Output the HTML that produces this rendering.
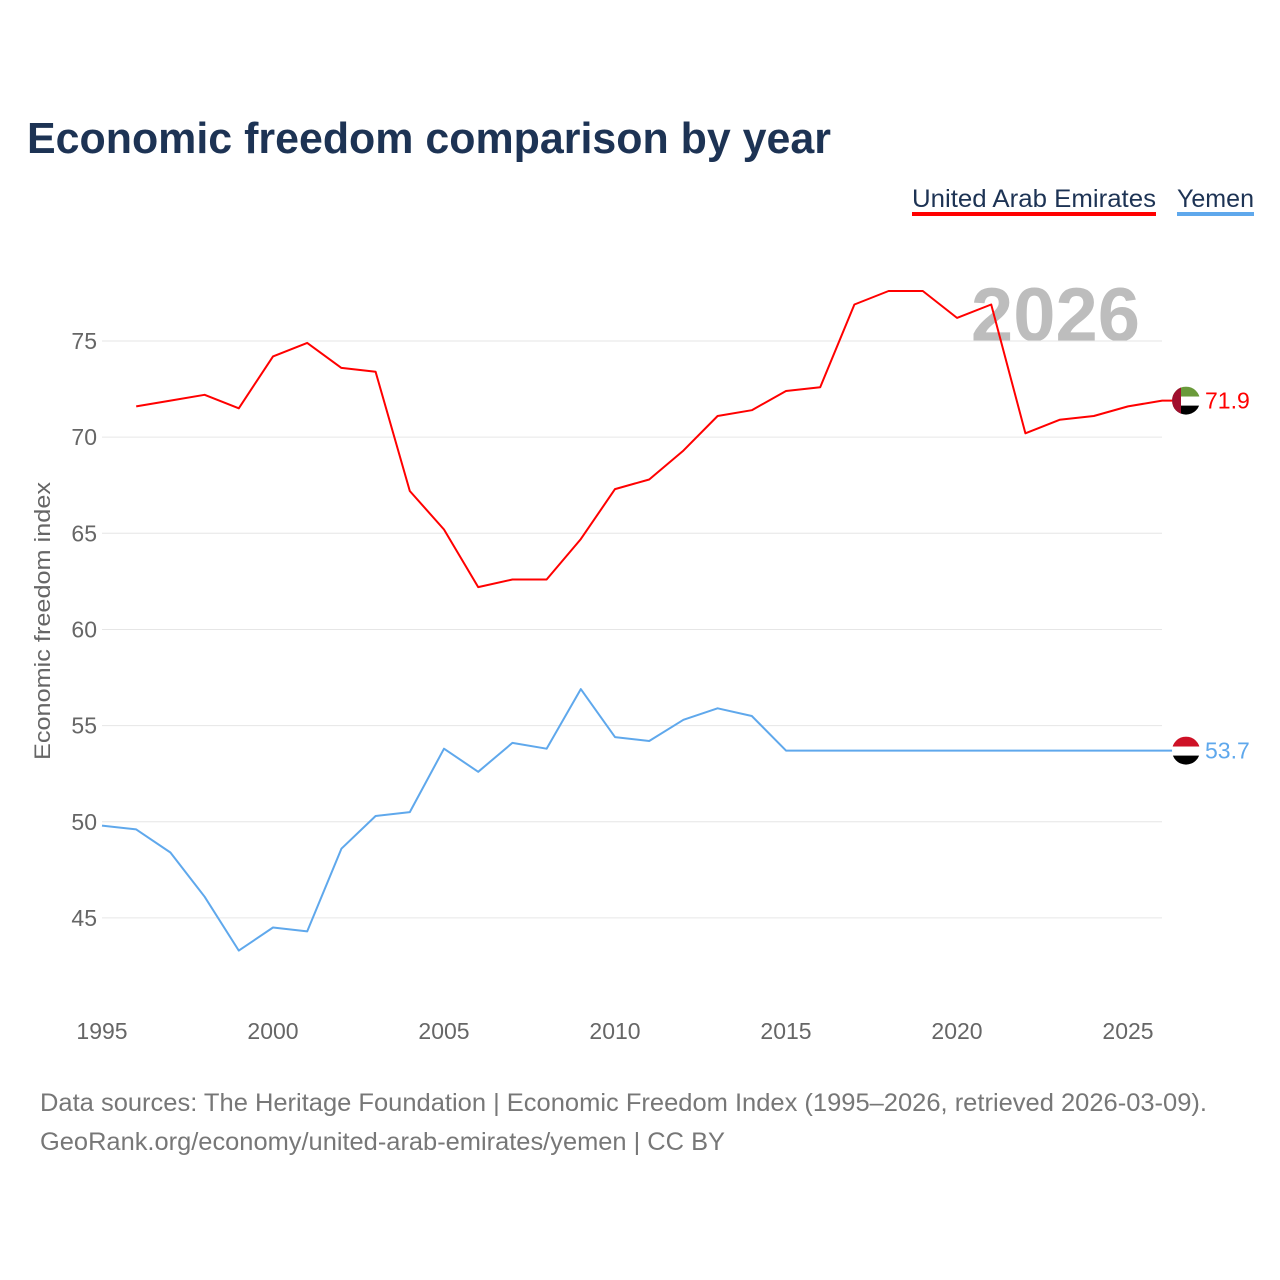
<!DOCTYPE html>
<html><head><meta charset="utf-8">
<style>
html,body{margin:0;padding:0;background:#fff;width:1280px;height:1280px;overflow:hidden;font-family:"Liberation Sans",sans-serif;}
</style></head>
<body>
<svg id="chart" width="1280" height="1280" xmlns="http://www.w3.org/2000/svg">
<text x="27" y="153" font-size="44" font-weight="bold" fill="#1d3354" textLength="804" lengthAdjust="spacingAndGlyphs">Economic freedom comparison by year</text>
<g>
<text x="912" y="207" font-size="25" fill="#1d3354" textLength="244" lengthAdjust="spacingAndGlyphs">United Arab Emirates</text>
<rect x="912" y="212" width="244" height="4" fill="#ff0000"/>
<text x="1177" y="207" font-size="25" fill="#1d3354" textLength="77" lengthAdjust="spacingAndGlyphs">Yemen</text>
<rect x="1177" y="212" width="77" height="4" fill="#5fa8ec"/>
</g>
<text x="1140" y="341" font-size="76" font-weight="bold" fill="#bdbdbd" text-anchor="end">2026</text>
<g id="grid"></g><g id="xt"></g>
<text transform="translate(50,621) rotate(-90)" font-size="22" fill="#666" text-anchor="middle" textLength="278" lengthAdjust="spacingAndGlyphs">Economic freedom index</text>
<g id="series"></g>
<text x="40" y="1111" font-size="25" fill="#777" textLength="1167" lengthAdjust="spacingAndGlyphs">Data sources: The Heritage Foundation | Economic Freedom Index (1995–2026, retrieved 2026-03-09).</text>
<text x="40" y="1150" font-size="25" fill="#777" textLength="685" lengthAdjust="spacingAndGlyphs">GeoRank.org/economy/united-arab-emirates/yemen | CC BY</text>
</svg>
<script>
const years=[1995,1996,1997,1998,1999,2000,2001,2002,2003,2004,2005,2006,2007,2008,2009,2010,2011,2012,2013,2014,2015,2016,2017,2018,2019,2020,2021,2022,2023,2024,2025,2026];
const uae=[null,71.6,71.9,72.2,71.5,74.2,74.9,73.6,73.4,67.2,65.2,62.2,62.6,62.6,64.7,67.3,67.8,69.3,71.1,71.4,72.4,72.6,76.9,77.6,77.6,76.2,76.9,70.2,70.9,71.1,71.6,71.9];
const yemen=[49.8,49.6,48.4,46.1,43.3,44.5,44.3,48.6,50.3,50.5,53.8,52.6,54.1,53.8,56.9,54.4,54.2,55.3,55.9,55.5,53.7,53.7,53.7,53.7,53.7,53.7,53.7,53.7,53.7,53.7,53.7,53.7];
const yTicks=[45,50,55,60,65,70,75];
const xTicks=[1995,2000,2005,2010,2015,2020,2025];
const NS="http://www.w3.org/2000/svg";
const X=y=>102+(y-1995)*34.2;
const Y=v=>341+(75-v)*19.23;
function mk(tag,attrs,parent,txt){const e=document.createElementNS(NS,tag);for(const k in attrs)e.setAttribute(k,attrs[k]);if(txt!==undefined)e.textContent=txt;parent.appendChild(e);return e;}
const grid=document.getElementById('grid');
yTicks.forEach(t=>{
 const l=mk('line',{x1:102,x2:1162,y1:Y(t),y2:Y(t),stroke:'#e6e6e6','stroke-width':1},grid);
 
 
 const tx=mk('text',{x:97,y:Y(t)+8,'font-size':23,fill:'#666','text-anchor':'end'},grid,t);
 
 
});
const xt=document.getElementById('xt');
xTicks.forEach(t=>{
 const tx=mk('text',{x:X(t),y:1039,'font-size':23,fill:'#666','text-anchor':'middle'},xt,t);
 
 
});
const sg=document.getElementById('series');
function line(vals,color,name){
 let d='';vals.forEach((v,i)=>{if(v==null)return;d+=(d?'L':'M')+X(years[i]).toFixed(1)+','+Y(v).toFixed(1);});
 const last=vals[vals.length-1];
 d+='L1186,'+Y(last).toFixed(1);
 const p=mk('path',{d:d,fill:'none',stroke:color,'stroke-width':2,'stroke-linejoin':'round'},sg);
 
 
 const t=mk('text',{x:1205,y:Y(last)+8,'font-size':23,fill:color},sg,last.toFixed(1));
 
 
 return Y(last);
}
const yu=line(uae,'#ff0000','uae');
const yy=line(yemen,'#5fa8ec','yemen');
function flagUAE(cy){
 const g=mk('g',{},sg);
 
 
 mk('clipPath',{id:'cu'},g);
 const cp=g.querySelector('clipPath');mk('circle',{cx:1186,cy:cy,r:14},cp);
 const h=mk('g',{'clip-path':'url(#cu)'},g);
 mk('rect',{x:1172,y:cy-14,width:28,height:10,fill:'#6a9a3a'},h);
 mk('rect',{x:1172,y:cy-4,width:28,height:9,fill:'#fff'},h);
 mk('rect',{x:1172,y:cy+5,width:28,height:10,fill:'#000'},h);
 mk('rect',{x:1172,y:cy-14,width:9,height:28,fill:'#a0102e'},h);
}
function flagYE(cy){
 const g=mk('g',{},sg);
 
 
 mk('clipPath',{id:'cy'},g);
 const cp=g.querySelector('clipPath');mk('circle',{cx:1186,cy:cy,r:14},cp);
 const h=mk('g',{'clip-path':'url(#cy)'},g);
 mk('rect',{x:1172,y:cy-14,width:28,height:10,fill:'#ce1126'},h);
 mk('rect',{x:1172,y:cy-4,width:28,height:9,fill:'#fff'},h);
 mk('rect',{x:1172,y:cy+5,width:28,height:10,fill:'#000'},h);
}
flagUAE(yu);flagYE(yy);
</script>
</body></html>
